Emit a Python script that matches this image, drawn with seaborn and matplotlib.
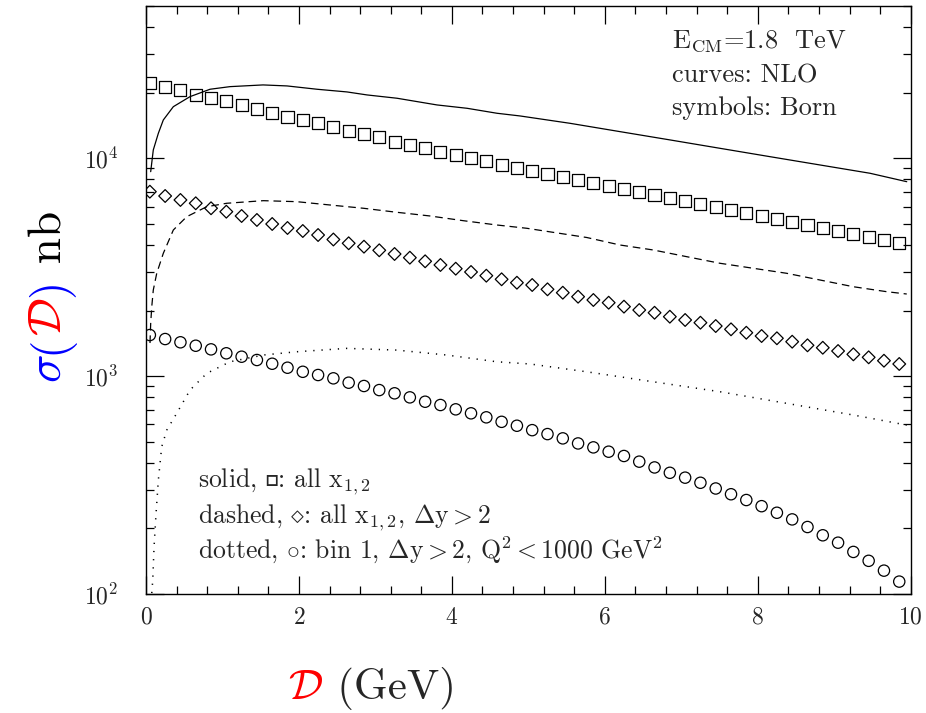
import matplotlib
matplotlib.use("Agg")
import matplotlib.pyplot as plt
import pandas as pd
import seaborn as sns
from matplotlib.ticker import MultipleLocator, LogLocator, NullFormatter, LogFormatterMathtext

# Born symbols: bin centres in D (GeV)
d_born = [0.05, 0.25, 0.45, 0.65, 0.85, 1.05, 1.25, 1.45, 1.65, 1.85,
          2.05, 2.25, 2.45, 2.65, 2.85, 3.05, 3.25, 3.45, 3.65, 3.85,
          4.05, 4.25, 4.45, 4.65, 4.85, 5.05, 5.25, 5.45, 5.65, 5.85,
          6.05, 6.25, 6.45, 6.65, 6.85, 7.05, 7.25, 7.45, 7.65, 7.85,
          8.05, 8.25, 8.45, 8.65, 8.85, 9.05, 9.25, 9.45, 9.65, 9.85]
# squares: all x_{1,2}
born_all = [22240, 21320, 20590, 19590, 18920, 18270, 17510, 16840, 16140, 15520,
            14990, 14470, 13880, 13350, 12930, 12490, 11920, 11540, 11150, 10720,
            10390, 10000, 9690, 9350, 9030, 8740, 8470, 8205, 7950, 7700,
            7460, 7230, 7000, 6785, 6570, 6370, 6170, 5975, 5790, 5610,
            5435, 5265, 5100, 4940, 4790, 4635, 4490, 4350, 4215, 4085]
# diamonds: all x_{1,2}, dy>2
born_dy2 = [7025, 6712, 6436, 6215, 5896, 5686, 5433, 5210, 4993, 4786,
            4636, 4444, 4238, 4072, 3928, 3781, 3636, 3497, 3366, 3237,
            3113, 3006, 2891, 2783, 2684, 2620, 2503, 2415, 2315, 2236,
            2173, 2084, 2011, 1954, 1874, 1810, 1759, 1698, 1640, 1582,
            1528, 1492, 1439, 1385, 1350, 1304, 1259, 1220, 1177, 1137]
# circles: bin 1, dy>2, Q^2<1000
born_bin1 = [1544, 1480, 1430, 1379, 1327, 1273, 1228, 1186, 1140, 1093,
             1047, 1012, 977, 933, 901, 863, 834, 799, 763, 737,
             704, 675, 647, 617, 592, 565, 542, 518, 491, 471,
             450, 430, 405, 381, 360, 342, 324, 305, 287, 270,
             253, 236, 220, 203, 186, 172, 156, 142, 128, 114]

# NLO curves
d_solid = [0.061, 0.095, 0.161, 0.226, 0.357, 0.575, 0.837, 1.098, 1.530, 1.844,
           2.236, 2.628, 2.890, 3.282, 3.805, 4.198, 4.590, 4.891, 5.545, 6.199,
           6.852, 7.506, 8.160, 8.814, 9.468, 9.948]
nlo_all = [8680, 10920, 13020, 14990, 17250, 19180, 20740, 21320, 21710, 21480,
           20740, 20160, 19530, 18860, 17570, 16960, 16090, 15640, 14470, 13250,
           12140, 11110, 10170, 9316, 8534, 7807]

d_dashed = [0.052, 0.061, 0.075, 0.095, 0.140, 0.226, 0.357, 0.532, 0.794, 1.055,
            1.534, 1.971, 2.406, 2.842, 3.278, 3.714, 4.149, 4.586, 4.978, 5.763,
            6.199, 6.634, 7.071, 7.506, 7.942, 8.378, 8.814, 9.249, 9.686, 9.948]
nlo_dy2 = [1419, 1748, 2084, 2485, 2965, 3663, 4686, 5393, 5993, 6215,
           6388, 6321, 6103, 5896, 5651, 5434, 5170, 4941, 4772, 4329,
           3998, 3793, 3534, 3296, 3126, 2965, 2762, 2573, 2441, 2382]

d_dotted = [0.075, 0.088, 0.105, 0.131, 0.161, 0.205, 0.271, 0.401, 0.575, 0.794,
            1.098, 1.534, 1.971, 2.625, 3.278, 3.932, 4.586, 5.022, 5.763, 6.634,
            7.506, 8.378, 9.249, 9.598, 9.948]
nlo_bin1 = [101, 116, 165, 234, 333, 474, 565, 675, 863, 1030,
            1164, 1250, 1294, 1341, 1317, 1250, 1164, 1137, 1047, 942,
            848, 750, 663, 629, 596]

sns.set_style("ticks")
plt.rcParams['font.family'] = ['cmr10', 'DejaVu Serif', 'DejaVu Sans']
plt.rcParams['mathtext.fontset'] = 'cm'
plt.rcParams['axes.formatter.use_mathtext'] = True
plt.rcParams['lines.scale_dashes'] = False

fig = plt.figure(figsize=(9.26, 7.13), dpi=100)
ax = fig.add_axes([0.1577, 0.1669, 0.8258, 0.8247])

born = pd.DataFrame({'D': d_born, 'all': born_all, 'dy2': born_dy2, 'bin1': born_bin1})

sns.lineplot(x=d_solid, y=nlo_all, ax=ax, color='black', lw=0.9)
sns.lineplot(x=d_dashed, y=nlo_dy2, ax=ax, color='black', lw=0.9, linestyle=(0, (5.5, 3.5)))
sns.lineplot(x=d_dotted, y=nlo_bin1, ax=ax, color='black', lw=1.1, linestyle=(0, (0.9, 5.0)))

sns.scatterplot(data=born, x='D', y='all', ax=ax, marker='s', s=76,
                facecolors='none', edgecolors='black', linewidths=0.9)
sns.scatterplot(data=born, x='D', y='dy2', ax=ax, marker='D', s=42,
                facecolors='none', edgecolors='black', linewidths=0.9)
sns.scatterplot(data=born, x='D', y='bin1', ax=ax, marker='o', s=66,
                facecolors='none', edgecolors='black', linewidths=0.9)

ax.set_yscale('log')
ax.set_xlim(0, 10)
ax.set_ylim(100, 50000)
ax.set_xlabel('')
ax.set_ylabel('')
ax.xaxis.set_major_locator(MultipleLocator(2))
ax.xaxis.set_minor_locator(MultipleLocator(0.4))
ax.yaxis.set_major_locator(LogLocator(base=10))
ax.yaxis.set_minor_locator(LogLocator(base=10, subs=range(2, 10)))
ax.yaxis.set_major_formatter(LogFormatterMathtext())
ax.yaxis.set_minor_formatter(NullFormatter())
ax.tick_params(which='both', direction='in', top=True, right=True, width=0.9, color='black')
ax.tick_params(which='major', length=13)
ax.tick_params(which='minor', length=5.5)
ax.tick_params(axis='x', labelsize=17, pad=9)
ax.tick_params(axis='y', labelsize=17, pad=20)
for sp in ax.spines.values():
    sp.set_linewidth(1.0)
    sp.set_color('black')

# annotations
top_fs = 19
fig.text(0.7254, 0.9327, r'E$_{\rm CM}$=1.8  TeV', fontsize=top_fs, va='baseline')
fig.text(0.7254, 0.8836, 'curves: NLO', fontsize=top_fs, va='baseline')
fig.text(0.7254, 0.8387, 'symbols: Born', fontsize=top_fs, va='baseline')

bot_fs = 18.5
fig.text(0.2138, 0.3174, 'solid, $\u25ab$: all x$_{1,2}$', fontsize=bot_fs, va='baseline')
fig.text(0.2138, 0.2661, r'dashed, $\diamond$: all x$_{1,2}$, $\Delta{\rm y}>2$', fontsize=bot_fs, va='baseline')
fig.text(0.2138, 0.2170, r'dotted, $\circ$: bin 1, $\Delta{\rm y}>2$, Q$^2$$<$1000 GeV$^2$', fontsize=bot_fs, va='baseline')

# x label: red script D then (GeV)
xfs = 31
xl0 = fig.text(0.311, 0.02, r'$\mathcal{D}$', color='red', fontsize=xfs, va='baseline')
ax.annotate(' (GeV)', xy=(1, 0.02), xycoords=(xl0, 'figure fraction'),
            fontsize=xfs, va='baseline', ha='left', annotation_clip=False)

# y label: blue sigma( red D blue ) black nb
rot = dict(rotation=90, rotation_mode='anchor', ha='left', va='baseline', fontsize=34)
yb = 0.066
yl0 = fig.text(yb, 0.463, r'$\sigma$', color='blue', **rot)
yl1 = ax.annotate('(', xy=(yb, 1), xycoords=('figure fraction', yl0), color='blue',
                  annotation_clip=False, **rot)
yl2 = ax.annotate(r'$\mathcal{D}$', xy=(yb, 1), xycoords=('figure fraction', yl1), color='red',
                  annotation_clip=False, **rot)
yl3 = ax.annotate(')', xy=(yb, 1), xycoords=('figure fraction', yl2), color='blue',
                  annotation_clip=False, **rot)
ax.annotate(' nb', xy=(yb, 1), xycoords=('figure fraction', yl3), color='black',
            annotation_clip=False, **rot)

fig.savefig('out.png', dpi=100)
